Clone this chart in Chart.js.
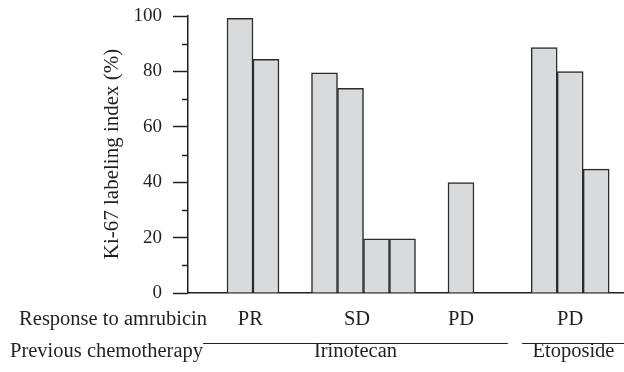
<!DOCTYPE html>
<html>
<head>
<meta charset="utf-8">
<script src="https://cdn.jsdelivr.net/npm/chart.js@4/dist/chart.umd.min.js"></script>
<style>
  html, body { margin: 0; padding: 0; background: #fff; }
  #wrap { width: 624px; height: 372px; position: relative; }
</style>
</head>
<body>
<div id="wrap"><canvas id="myChart" width="624" height="372"></canvas></div>
<script>
// bar slots along the x axis (one unit = one bar width)
const barSlots = [2, 3, 5.25, 6.25, 7.25, 8.25, 10.5, 13.7, 14.7, 15.7];
const ki67 = [99.2, 84.4, 79.5, 73.9, 19.6, 19.6, 39.9, 88.6, 79.9, 44.7];

const responseLabels = ["PR", "SD", "PD", "PD"];
const responseAt = [2.4, 6.5, 10.5, 14.7];

const chemoLabels = ["Irinotecan", "Etoposide"];
const chemoFrom = [0.58, 12.85];
const chemoTo = [12.3, 16.8];

const yTicks = [0, 20, 40, 60, 80, 100];
const yMinor = [10, 30, 50, 70, 90];

const ink = "#231f20";
const serif = "'Liberation Serif', 'Times New Roman', serif";

const extras = {
    id: "extras",
    afterDraw(chart) {
        const c = chart.ctx;
        const x = chart.scales.x;
        const y = chart.scales.y;
        const left = chart.chartArea.left;
        c.save();
        c.strokeStyle = ink;
        c.lineWidth = 1.5;
        // minor ticks
        yMinor.forEach(v => {
            const py = Math.round(y.getPixelForValue(v)) + 0.5;
            c.beginPath();
            c.moveTo(left - 6, py);
            c.lineTo(left, py);
            c.stroke();
        });
        // y title
        c.fillStyle = ink;
        c.font = "21px " + serif;
        c.translate(118, 154);
        c.rotate(-Math.PI / 2);
        c.textAlign = "center";
        c.textBaseline = "alphabetic";
        c.fillText("Ki-67 labeling index (%)", 0, 0);
        c.restore();

        c.save();
        c.fillStyle = ink;
        c.strokeStyle = ink;
        c.font = "20.5px " + serif;
        c.textBaseline = "alphabetic";
        c.textAlign = "right";
        c.fillText("Response to amrubicin", 207, 325);
        c.fillText("Previous chemotherapy", 203, 357);
        c.textAlign = "center";
        responseLabels.forEach((t, i) => c.fillText(t, x.getPixelForValue(responseAt[i]), 325));
        chemoLabels.forEach((t, i) => {
            const a = x.getPixelForValue(chemoFrom[i]);
            const b = x.getPixelForValue(chemoTo[i]);
            c.lineWidth = 1.2;
            c.beginPath();
            c.moveTo(a, 343.5);
            c.lineTo(b, 343.5);
            c.stroke();
            c.fillText(t, (a + b) / 2, 357);
        });
        c.restore();
    }
};

document.addEventListener("DOMContentLoaded", () => {
    const ctx = document.getElementById("myChart").getContext("2d");
    new Chart(ctx, {
        type: "bar",
        data: {
            datasets: [
                {
                    label: "Ki-67",
                    data: barSlots.map((s, i) => ({ x: s, y: ki67[i] })),
                    backgroundColor: "#d9dadc",
                    borderColor: "#2b2b2b",
                    borderWidth: 1.5,
                    barPercentage: 1,
                    categoryPercentage: 1,
                },
            ],
        },
        options: {
            responsive: false,
            animation: false,
            layout: { padding: { top: 16, bottom: 79, left: 0, right: 0 } },
            plugins: {
                legend: { display: false },
                tooltip: { enabled: false },
            },
            scales: {
                x: {
                    type: "linear",
                    offset: false,
                    min: 0,
                    max: 16.77,
                    ticks: { display: false },
                    grid: { display: false, drawTicks: false, offset: false },
                    border: { display: true, color: ink, width: 1.5 },
                    afterFit: s => { s.height = 0; },
                },
                y: {
                    min: 0,
                    max: 100,
                    afterBuildTicks: s => { s.ticks = yTicks.map(v => ({ value: v })); },
                    ticks: {
                        color: ink,
                        padding: 11,
                        font: { family: serif, size: 19, lineHeight: 0.5 },
                    },
                    grid: {
                        drawOnChartArea: false,
                        tickLength: 15,
                        tickWidth: 1.5,
                        tickColor: ink,
                    },
                    border: { display: true, color: ink, width: 1.5 },
                    afterFit: s => { s.width = 188; },
                },
            },
        },
        plugins: [extras],
    });
});
</script>
</body>
</html>
